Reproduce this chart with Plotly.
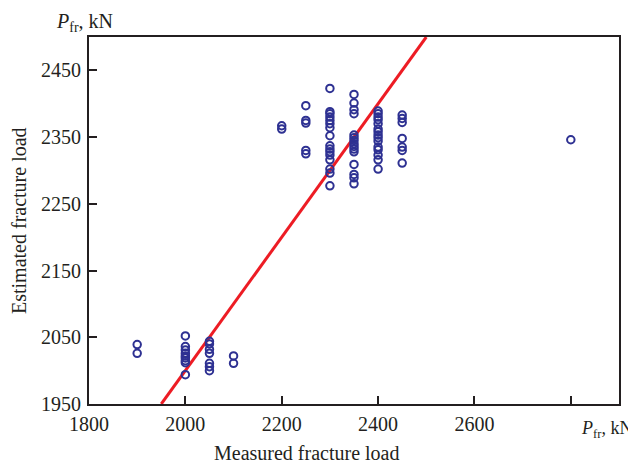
import plotly.graph_objects as go

# Measured fracture load (kN) groups and corresponding estimated loads (kN)
x1900 = [2039, 2026]
x2000 = [2052, 2036, 2031, 2026, 2022, 2019, 2015, 2012, 1994]
x2050 = [2044, 2040, 2032, 2026, 2011, 2006, 2000]
x2100 = [2022, 2011]
x2200 = [2367, 2362]
x2250 = [2397, 2375, 2371, 2330, 2325]
x2300 = [2423, 2388, 2385, 2380, 2375, 2370, 2364, 2352, 2337, 2332, 2328, 2323, 2316, 2302, 2296, 2277]
x2350 = [2414, 2401, 2391, 2385, 2353, 2349, 2345, 2340, 2336, 2332, 2328, 2309, 2294, 2289, 2280]
x2400 = [2389, 2385, 2380, 2376, 2370, 2362, 2358, 2353, 2349, 2344, 2335, 2331, 2323, 2316, 2302]
x2450 = [2383, 2378, 2372, 2348, 2335, 2330, 2311]
x2800 = [2346]

groups = {1900: x1900, 2000: x2000, 2050: x2050, 2100: x2100, 2200: x2200,
          2250: x2250, 2300: x2300, 2350: x2350, 2400: x2400, 2450: x2450, 2800: x2800}

measured = []
estimated = []
for k, vals in groups.items():
    measured += [k] * len(vals)
    estimated += vals

# line of equality
line_x = [1950, 2500]
line_y = [1950, 2500]

x_tickvals = [1800, 2000, 2200, 2400, 2600, 2800]
x_ticktext = ["1800", "2000", "2200", "2400", "2600", ""]
y_tickvals = [1950, 2050, 2150, 2250, 2350, 2450]

FONT = "Liberation Serif"
AX = "#231F20"
FS = 20

fig = go.Figure()
fig.add_trace(go.Scatter(x=line_x, y=line_y, mode="lines",
                         line=dict(color="#ED1C24", width=3), showlegend=False,
                         hoverinfo="skip"))
fig.add_trace(go.Scatter(x=measured, y=estimated, mode="markers",
                         marker=dict(symbol="circle-open", size=7.5, color="#2E3192",
                                     line=dict(width=2, color="#2E3192")),
                         showlegend=False))

fig.update_layout(
    width=628, height=460,
    margin=dict(l=80.5, r=17, t=29, b=64),
    paper_bgcolor="white", plot_bgcolor="white",
    font=dict(family=FONT, size=FS, color=AX),
    xaxis=dict(range=[1800, 2900], tickvals=x_tickvals, ticktext=x_ticktext,
               ticks="inside", ticklen=8, tickwidth=2, tickcolor=AX,
               showline=True, linewidth=2, linecolor=AX, mirror=True,
               ticklabelstandoff=1,
               showgrid=False, zeroline=False, tickfont=dict(family=FONT, size=FS, color=AX)),
    yaxis=dict(range=[1950, 2500], tickvals=y_tickvals,
               ticks="inside", ticklen=8, tickwidth=2, tickcolor=AX,
               showline=True, linewidth=2, linecolor=AX, mirror=True,
               ticklabelstandoff=2,
               showgrid=False, zeroline=False, tickfont=dict(family=FONT, size=FS, color=AX)),
    annotations=[
        dict(text="<i>P</i><sub>fr</sub>, kN", xref="paper", yref="paper",
             x=0, y=1.0, xanchor="left", yanchor="bottom", xshift=-35, yshift=0,
             showarrow=False, font=dict(family=FONT, size=FS, color=AX)),
        dict(text="<i>P</i><sub>fr</sub>, kN", xref="x", yref="paper",
             x=2800, y=0, xanchor="left", yanchor="top", xshift=8, yshift=-12,
             showarrow=False, font=dict(family=FONT, size=18, color=AX)),
        dict(text="Measured fracture load", xref="paper", yref="paper",
             x=0.41, y=0, xanchor="center", yanchor="top", yshift=-36,
             showarrow=False, font=dict(family=FONT, size=FS, color=AX)),
        dict(text="Estimated fracture load", xref="paper", yref="paper",
             x=-0.133, y=0.5, xanchor="center", yanchor="middle", textangle=-90,
             showarrow=False, font=dict(family=FONT, size=FS, color=AX)),
    ],
)

fig.write_html("out.html")
